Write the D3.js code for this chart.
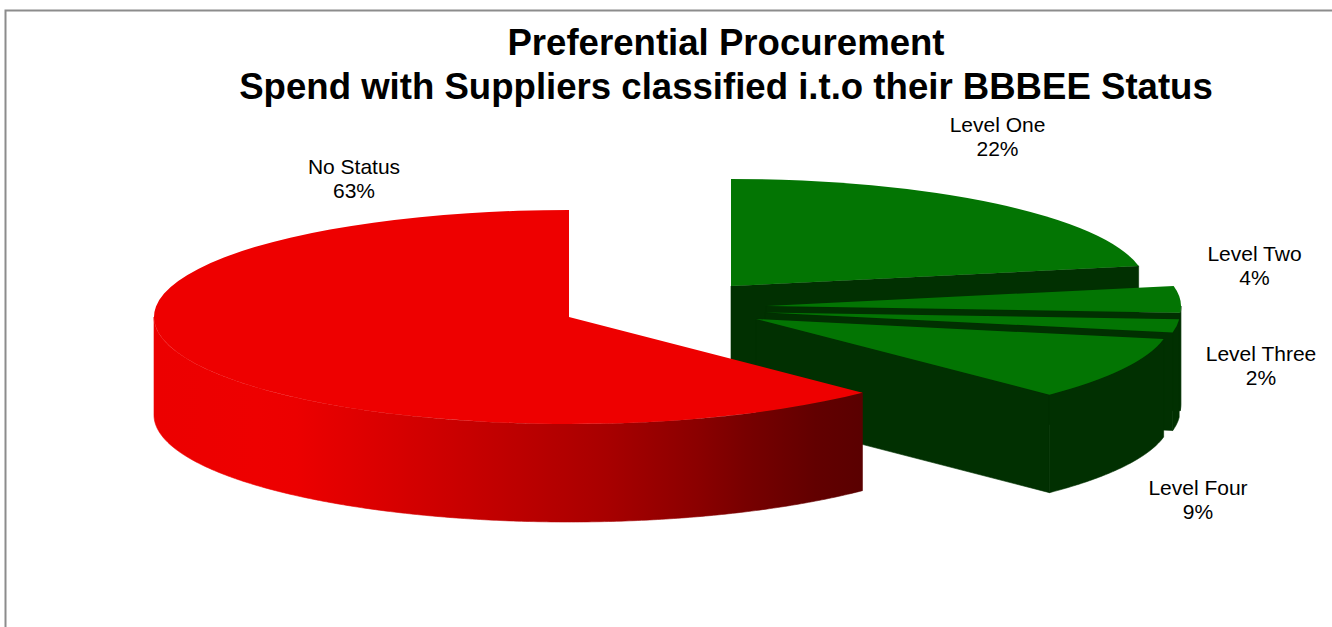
<!DOCTYPE html>
<html>
<head>
<meta charset="utf-8">
<script src="https://cdn.jsdelivr.net/npm/d3@7"></script>
<style>
  html, body { margin: 0; background: #fff; }
  text { font-family: "Liberation Sans", Arial, sans-serif; fill: #000; }
</style>
</head>
<body>
<svg id="chart"></svg>
<script>
// Chart values, clockwise from twelve o'clock
const categories = ['Level One', 'Level Two', 'Level Three', 'Level Four', 'No Status'];
const shares = [22, 4, 2, 9.5, 62.5];
const shareLabels = ['22%', '4%', '2%', '9%', '63%'];
const titleLines = ['Preferential Procurement', 'Spend with Suppliers classified i.t.o their BBBEE Status'];

const width = 1332;
const height = 627;

// Pie projection: a circle squashed to an ellipse with a rim below it
const rx = 415;
const ry = 107;
const depth = 98;

// Where each slice's centre ends up once exploded
const centers = [[731, 286], [766, 306], [765, 312.5], [756, 319], [569, 317]];
const labelPos = [[997.5, 132], [1254.5, 261], [1261, 361], [1198, 495], [354, 174]];

const greenTop = '#037503';
const greenSide = '#013001';
const redTop = '#ee0000';

const svg = d3.select('#chart')
  .attr('width', width)
  .attr('height', height)
  .attr('viewBox', `0 0 ${width} ${height}`)
  .style('display', 'block');

const defs = svg.append('defs');
const rimGradient = defs.append('linearGradient')
  .attr('id', 'red-rim')
  .attr('gradientUnits', 'userSpaceOnUse')
  .attr('x1', centers[4][0] - rx)
  .attr('x2', centers[4][0] + rx * Math.SQRT1_2)
  .attr('y1', 0)
  .attr('y2', 0);

[[0, '#ec0000'], [0.144, '#ee0000'], [0.2, '#ec0000'], [0.335, '#d80000'], [0.54, '#b80000'],
  [0.637, '#a80000'], [0.77, '#8a0000'], [0.835, '#780000'], [0.934, '#620000'], [1, '#5a0000']]
  .forEach(([o, c]) => rimGradient.append('stop').attr('offset', o).attr('stop-color', c));

// Frame: only the top and left edges are drawn
svg.append('path')
  .attr('d', d3.line()([[5.5, height], [5.5, 10.5], [width, 10.5]]))
  .attr('fill', 'none')
  .attr('stroke', '#8c8c8c')
  .attr('stroke-width', 2);

// Title
svg.append('text')
  .attr('text-anchor', 'middle')
  .attr('font-size', 36.6)
  .attr('font-weight', 'bold')
  .selectAll('tspan')
  .data(titleLines)
  .join('tspan')
  .attr('x', 726)
  .attr('y', (d, i) => 55 + i * 44)
  .text(d => d);

const slices = d3.pie().sort(null).value(d => d)(shares);

const pointAt = (c, a, drop = 0) => [c[0] + rx * Math.sin(a), c[1] - ry * Math.cos(a) + drop];

// Outer rim between two angles, follows the ellipse top then returns along the bottom
function rimPath(c, a0, a1) {
  const angles = d3.range(a0, a1, 0.01).concat(a1);
  const upper = angles.map(a => pointAt(c, a));
  const lower = angles.slice().reverse().map(a => pointAt(c, a, depth));
  return d3.line()(upper.concat(lower)) + 'Z';
}

const arc = d3.arc().innerRadius(0).outerRadius(rx);
const pieG = svg.append('g');

slices.forEach((s, i) => {
  const c = centers[i];
  const isRed = i === 4;
  const g = pieG.append('g').attr('class', 'slice');
  const rimFill = isRed ? 'url(#red-rim)' : greenSide;

  if (!isRed) {
    // Cut face at the slice's clockwise end
    const edge = pointAt(c, s.endAngle);
    g.append('path')
      .attr('d', d3.line()([c, edge, [edge[0], edge[1] + depth], [c[0], c[1] + depth]]) + 'Z')
      .attr('fill', greenSide)
      .attr('stroke', greenSide)
      .attr('stroke-width', 0.6);
  }

  // Only the front half of the rim can be seen
  const a0 = Math.max(s.startAngle, Math.PI / 2);
  const a1 = Math.min(s.endAngle, Math.PI * 1.5);
  if (a1 > a0) {
    g.append('path')
      .attr('d', rimPath(c, a0, a1))
      .attr('fill', rimFill)
      .attr('stroke', rimFill)
      .attr('stroke-width', 0.6);
  }

  g.append('path')
    .attr('d', arc(s))
    .attr('transform', `translate(${c[0]},${c[1]}) scale(1,${ry / rx})`)
    .attr('fill', isRed ? redTop : greenTop);
});

// Data labels
const labels = svg.append('g')
  .attr('text-anchor', 'middle')
  .attr('font-size', 21);

categories.forEach((name, i) => {
  const [x, y] = labelPos[i];
  const t = labels.append('text').attr('x', x).attr('y', y);
  t.append('tspan').attr('x', x).text(name);
  t.append('tspan').attr('x', x).attr('dy', 24).text(shareLabels[i]);
});
</script>
</body>
</html>
